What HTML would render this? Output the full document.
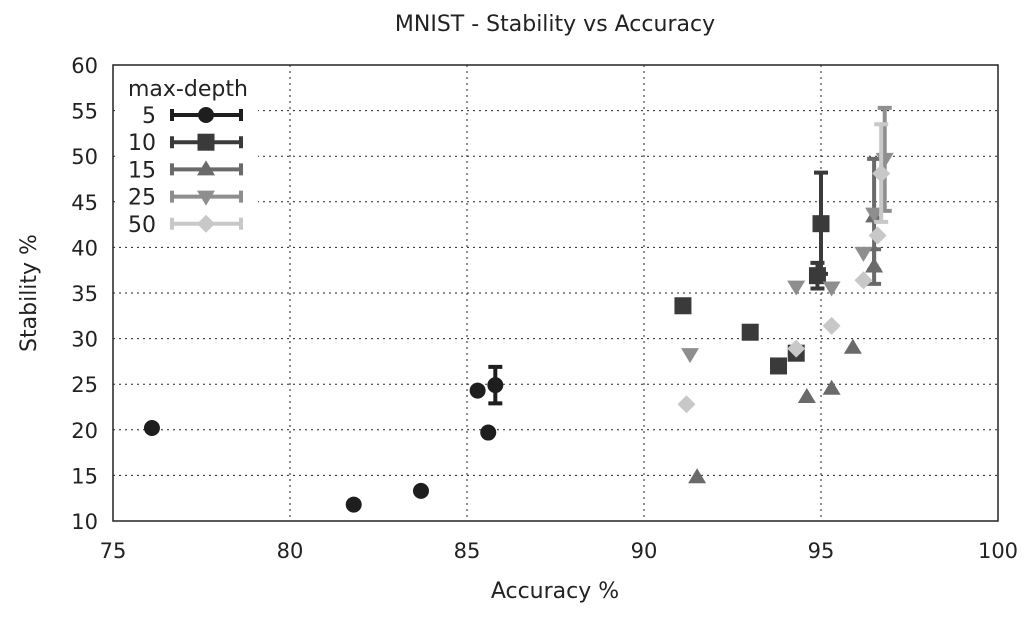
<!DOCTYPE html>
<html><head><meta charset="utf-8"><style>
body{margin:0;background:#fff;}
svg text{font-family:"DejaVu Sans","Liberation Sans",sans-serif;fill:#222;}
</style></head><body>
<svg id="chart" width="1035" height="614" xmlns="http://www.w3.org/2000/svg">
<text x="555" y="31" font-size="22" text-anchor="middle">MNIST - Stability vs Accuracy</text>
<text x="555" y="598" font-size="22" text-anchor="middle">Accuracy %</text>
<text x="36" y="293" font-size="22" text-anchor="middle" transform="rotate(-90 36 293)">Stability %</text>
<g id="grid"></g><g id="ticks"></g><g id="marks"></g><g id="legend"></g>
<rect x="113" y="65" width="885" height="456" fill="none" stroke="#222" stroke-width="1.5"/>
</svg>
<script>
const xTicks=[75,80,85,90,95,100];
const yTicks=[10,15,20,25,30,35,40,45,50,55,60];
const seriesNames=["5","10","15","25","50"];
const seriesColors=["#1e1e1e","#3a3a3a","#6a6a6a","#8e8e8e","#c8c8c8"];
const seriesShapes=["circle","square","tri","itri","diamond"];
const acc5=[76.1,81.8,83.7,85.3,85.6,85.8];
const stab5=[20.2,11.8,13.3,24.3,19.7,24.9];
const err5=[null,null,null,null,null,[22.9,26.9]];
const acc10=[91.1,93.0,93.8,94.3,94.9,95.0];
const stab10=[33.6,30.7,27.0,28.4,36.9,42.6];
const err10=[null,null,null,null,[35.5,38.3],[37.1,48.2]];
const acc15=[91.5,94.6,95.3,95.9,96.5,96.5];
const stab15=[14.8,23.6,24.5,29.0,37.9,43.4];
const err15=[null,null,null,null,[36.0,39.8],[37.5,49.7]];
const acc25=[91.3,94.3,95.3,96.2,96.5,96.8];
const stab25=[28.3,35.7,35.6,39.4,43.7,49.7];
const err25=[null,null,null,null,null,[44.0,55.3]];
const acc50=[91.2,94.3,95.3,96.2,96.6,96.7];
const stab50=[22.8,28.9,31.4,36.4,41.3,48.1];
const err50=[null,null,null,null,null,[42.8,53.5]];
const accs=[acc5,acc10,acc15,acc25,acc50],stabs=[stab5,stab10,stab15,stab25,stab50],errs=[err5,err10,err15,err25,err50];
const NS="http://www.w3.org/2000/svg";
const X=v=>113+(v-75)*885/25, Y=v=>521-(v-10)*456/50;
function mk(t,a,p){const e=document.createElementNS(NS,t);for(const k in a)e.setAttribute(k,a[k]);p.appendChild(e);return e;}
const grid=document.getElementById('grid'),ticks=document.getElementById('ticks');
xTicks.forEach(t=>{
 if(t>75&&t<100){const l=mk('line',{x1:X(t),x2:X(t),y1:65,y2:521,stroke:'#222','stroke-dasharray':'2 4'},grid);
 }
 const tx=mk('text',{x:X(t),y:558,'font-size':21,'text-anchor':'middle'},ticks);tx.textContent=t;
 
});
yTicks.forEach(t=>{
 if(t>10&&t<60){const l=mk('line',{x1:113,x2:998,y1:Y(t),y2:Y(t),stroke:'#222','stroke-dasharray':'2 4'},grid);
 }
 const tx=mk('text',{x:98,y:Y(t)+8,'font-size':21,'text-anchor':'end'},ticks);tx.textContent=t;
 
});
mk('rect',{x:118,y:72,width:140,height:168,fill:'#fff'},grid);
function shape(s,cx,cy,c,p){
 if(s=='circle')return mk('circle',{cx,cy,r:8,fill:c},p);
 if(s=='square')return mk('rect',{x:cx-8.5,y:cy-8.5,width:17,height:17,fill:c},p);
 if(s=='tri')return mk('polygon',{points:`${cx-9},${cy+6} ${cx+9},${cy+6} ${cx},${cy-9}`,fill:c},p);
 if(s=='itri')return mk('polygon',{points:`${cx-9},${cy-6} ${cx+9},${cy-6} ${cx},${cy+9}`,fill:c},p);
 return mk('polygon',{points:`${cx},${cy-9} ${cx+9},${cy} ${cx},${cy+9} ${cx-9},${cy}`,fill:c},p);
}
const marks=document.getElementById('marks');
seriesNames.forEach((n,si)=>{
 const g=mk('g',{},marks);
 accs[si].forEach((a,i)=>{
  const c=seriesColors[si],cx=X(a),cy=Y(stabs[si][i]),e=errs[si][i];
  if(e){const b=mk('path',{d:`M${cx},${Y(e[0])}V${Y(e[1])}M${cx-7},${Y(e[0])}H${cx+7}M${cx-7},${Y(e[1])}H${cx+7}`,stroke:c,'stroke-width':4,fill:'none'},g);
   }
  const m=shape(seriesShapes[si],cx,cy,c,g);
  
 });
});
const lg=document.getElementById('legend');
const lt=mk('text',{x:128,y:96,'font-size':22},lg);lt.textContent='max-depth';

seriesNames.forEach((n,i)=>{
 const y=115+i*27.2,c=seriesColors[i];
 const g=mk('g',{},lg);
 const t=mk('text',{x:156,y:y+8,'font-size':22,'text-anchor':'end'},g);t.textContent=n;
 mk('path',{d:`M172,${y}H241M172,${y-6}V${y+6}M241,${y-6}V${y+6}`,stroke:c,'stroke-width':4,fill:'none'},g);
 shape(seriesShapes[i],206,y,c,g);
});
</script>
</body></html>
